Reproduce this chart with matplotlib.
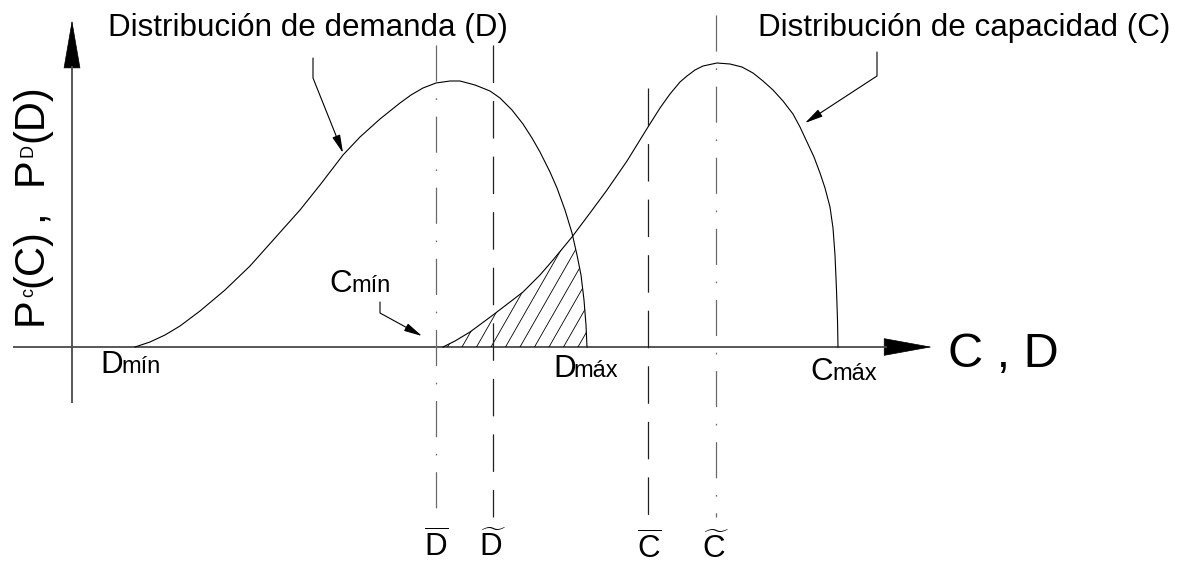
import numpy as np
import matplotlib
matplotlib.use('Agg')
import matplotlib.pyplot as plt
from matplotlib.patches import FancyArrowPatch, Polygon
from matplotlib.path import Path

plt.rcParams['font.family'] = ['Liberation Sans', 'DejaVu Sans']
plt.rcParams['mathtext.fontset'] = 'custom'
plt.rcParams['mathtext.rm'] = 'Liberation Sans'
plt.rcParams['mathtext.it'] = 'Liberation Sans:italic'
plt.rcParams['mathtext.bf'] = 'Liberation Sans:bold'
plt.rcParams['lines.scale_dashes'] = False

# ---------------- data (schematic units, origin at axes crossing) ----------------
demand_x = [63, 78, 93, 108, 128, 153, 178, 203, 228, 248, 271, 288, 308, 328, 339,
            351, 364, 378, 388, 403, 418, 428, 440, 451, 460, 468, 478, 485, 493,
            500, 505, 509, 512, 514, 515]
demand_y = [0, 5, 12, 21, 36, 57, 81, 109, 137, 162, 192, 210, 228, 244, 252,
            259, 264, 266, 266, 262, 256, 249, 237, 223, 209, 195, 175, 159, 137,
            114, 92, 72, 47, 22, 0]

capacity_x = [371, 383, 398, 421, 438, 451, 468, 481, 500, 518, 535, 555, 576, 588,
              598, 608, 615, 623, 631, 645, 658, 670, 681, 691, 701, 711, 721, 728,
              735, 742, 748, 753, 758, 761, 763, 764.5, 765.5, 766]
capacity_y = [0, 6, 15, 32, 45, 55, 72, 87, 110, 134, 157, 186, 220, 239,
              253, 265, 271, 277, 281, 284, 283, 280, 274, 266, 257, 246, 233, 220,
              205, 190, 174, 159, 140, 119, 92, 57, 27, 0]

ref_names = ['D_mean', 'D_mode', 'C_mean', 'C_mode']
ref_x = [364, 421, 576, 644]

# ---------------- figure ----------------
OX, OY = 72, 347  # pixel position of the axes crossing
fig = plt.figure(figsize=(11.78, 5.65), dpi=100)
ax = fig.add_axes([0, 0, 1, 1])
ax.set_xlim(-OX, 1178 - OX)
ax.set_ylim(OY - 565, OY)
ax.axis('off')


def P(px, py):
    return px - OX, OY - py


def T(px, py, s, **kw):
    x, y = P(px, py)
    return ax.text(x, y, s, **kw)


# axes lines
axis_col = '#4a4a4a'
ax.plot([P(13, 0)[0], P(887, 0)[0]], [0, 0], color=axis_col, lw=1.3, solid_capstyle='butt')
ax.plot([0, 0], [P(0, 403)[1], P(0, 66)[1]], color=axis_col, lw=1.3, solid_capstyle='butt')
# arrow heads
ms = 10
ax.add_patch(FancyArrowPatch(P(72, 66), P(72, 20),
                             arrowstyle='-|>,head_length=3.3,head_width=0.57',
                             mutation_scale=ms, color='black', lw=0.5, shrinkA=0, shrinkB=0))
ax.add_patch(FancyArrowPatch(P(887, 347), P(932, 347),
                             arrowstyle='-|>,head_length=3.3,head_width=0.6',
                             mutation_scale=ms, color='black', lw=0.5, shrinkA=0, shrinkB=0))

# curves
ax.plot(demand_x, demand_y, color='black', lw=0.8, solid_joinstyle='round')
ax.plot(capacity_x, capacity_y, color='black', lw=0.8, solid_joinstyle='round')

# hatched overlap region
xs = np.linspace(capacity_x[0], demand_x[-1], 400)
top = np.minimum(np.interp(xs, capacity_x, capacity_y), np.interp(xs, demand_x, demand_y))
top = np.clip(top, 0, None)
verts = np.column_stack([np.r_[xs, xs[::-1]], np.r_[top, np.zeros_like(top)]])
region = Polygon(verts, closed=True, facecolor='none', edgecolor='none')
ax.add_patch(region)
slope = 1.75
spacing = 14.5
for b in np.arange(capacity_x[0] + 4.5 - 10 * spacing, demand_x[-1] + spacing, spacing):
    ln, = ax.plot([b, b + 300 / slope], [0, 300], color='black', lw=0.6)
    ln.set_clip_path(region)

# vertical reference lines
dashdot = (0, (26, 12, 1.2, 12))
dashed = (0, (27, 13))
ref_styles = [dashdot, dashed, dashed, dashdot]
ref_cols = ['#6a6a6a', '#202020', '#202020', '#6a6a6a']
ref_tops = [302, 302, 259, 332]
ref_bottom = -170
for x, ls, c, t in zip(ref_x, ref_styles, ref_cols, ref_tops):
    ax.plot([x, x], [t, ref_bottom], color=c, lw=0.9, linestyle=ls)

# bottom labels
FS = 22.6
T(436, 557, r'$\overline{\mathrm{D}}$', fontsize=FS, ha='center', va='baseline')
T(493, 556, r'$\widetilde{\mathrm{D}}$', fontsize=FS, ha='center', va='baseline')
T(649, 559, r'$\overline{\mathrm{C}}$', fontsize=FS, ha='center', va='baseline')
T(716, 558, r'$\widetilde{\mathrm{C}}$', fontsize=FS, ha='center', va='baseline')

# titles of the distributions
T(108, 36, 'Distribución de demanda (D)', fontsize=FS, ha='left', va='baseline')
T(758, 36, 'Distribución de capacidad (C)', fontsize=FS, ha='left', va='baseline')

# axis label C , D
T(948, 367, 'C , D', fontsize=35, ha='left', va='baseline')

# point labels
FSS = 17
T(100, 373, 'D', fontsize=FS, ha='left', va='baseline')
T(121, 373, 'mín', fontsize=FSS, ha='left', va='baseline')
T(553, 377, 'D', fontsize=FS, ha='left', va='baseline')
T(573, 377, 'máx', fontsize=FSS, ha='left', va='baseline')
T(810, 380, 'C', fontsize=FS, ha='left', va='baseline')
T(832, 380, 'máx', fontsize=FSS, ha='left', va='baseline')
T(329, 292, 'C', fontsize=FS, ha='left', va='baseline')
T(351, 292, 'mín', fontsize=FSS, ha='left', va='baseline')

# y label built from pieces (rotated)
rk = dict(rotation=90, rotation_mode='anchor', ha='left', va='baseline')
YF, YS = 30, 13
T(42, 325, 'P', fontsize=YF, **rk)
T(33, 297, 'c', fontsize=YS, **rk)
T(42, 287, '(C)', fontsize=YF, **rk)
T(42, 221, ',', fontsize=YF, **rk)
T(42, 185, 'P', fontsize=YF, **rk)
T(33, 157, 'D', fontsize=YS, **rk)
T(42, 142, '(D)', fontsize=YF, **rk)

# leader arrows
lk = dict(arrowstyle='-|>,head_length=1.1,head_width=0.25', mutation_scale=ms,
          color='black', lw=0.8)
for pts in ([(313, 58), (313, 78), (343, 153)],
            [(877, 52), (877, 76), (805, 123)],
            [(380, 302), (380, 313), (422, 336)]):
    v = [P(*p) for p in pts]
    codes = [Path.MOVETO] + [Path.LINETO] * (len(v) - 1)
    ax.add_patch(FancyArrowPatch(path=Path(v, codes), **lk))

fig.savefig('out.png', dpi=100)
